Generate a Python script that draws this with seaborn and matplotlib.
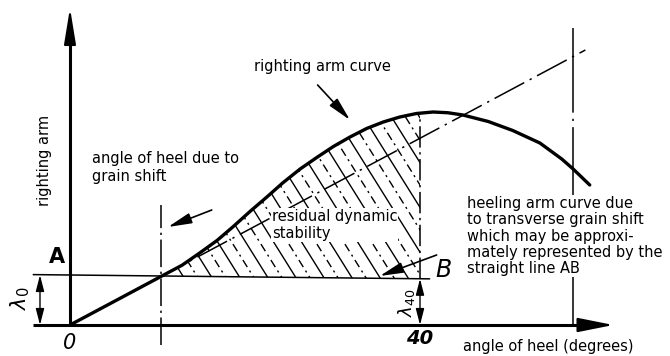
import numpy as np
import matplotlib.pyplot as plt
from matplotlib.patches import Polygon
import seaborn as sns

# righting arm curve (heel in degrees, arm in arbitrary units)
heel = [0, 6.0, 12.8, 14.9, 16.8, 18.6, 20.6, 22.5, 24.3, 26.3, 28.2, 30.1, 32.0,
        33.9, 35.8, 37.7, 39.6, 41.5, 43.2, 44.9, 47.8, 50.6, 53.7, 56.2, 57.5, 59.4]
arm = [0, 0.112, 0.239, 0.29, 0.338, 0.392, 0.455, 0.512, 0.568, 0.624, 0.67, 0.714, 0.752,
       0.786, 0.812, 0.832, 0.846, 0.852, 0.849, 0.84, 0.814, 0.778, 0.728, 0.664, 0.624, 0.56]

# heeling arm line AB
ab_heel = [-4.2, 41.1]
lambda_0 = 0.20
lambda_40 = 0.185
grain_shift_angle = 10.4
check_angle = 40
limit_angle = 57.5
# initial tangent of the righting arm curve
tangent_heel = [0, 58.9]
tangent_arm = [0, 1.10]

sns.set_theme(style="white")
plt.rcParams['font.family'] = ['DejaVu Sans']
plt.rcParams['mathtext.fontset'] = 'dejavusans'
plt.rcParams['text.color'] = 'black'

fig = plt.figure(figsize=(6.7, 3.56), dpi=100)
ax = fig.add_axes([0, 0, 1, 1])
ax.set_xlim(-8.0, 68.571)
ax.set_ylim(-0.124, 1.3)
ax.set_axis_off()


def ab_line(x):
    return lambda_0 + (lambda_40 - lambda_0) * np.asarray(x) / check_angle


# axes with arrows
ax.plot([-4.2, 59.0], [0, 0], color='black', lw=2.2, solid_capstyle='butt')
ax.annotate('', xy=(62.1, 0), xytext=(58.0, 0),
            arrowprops=dict(arrowstyle='-|>,head_length=1.1,head_width=0.22',
                            color='black', lw=1.5, mutation_scale=20, shrinkA=0, shrinkB=0))
ax.plot([0, 0], [0, 1.18], color='black', lw=2.2, solid_capstyle='butt')
ax.annotate('', xy=(0, 1.268), xytext=(0, 1.12),
            arrowprops=dict(arrowstyle='-|>,head_length=1.1,head_width=0.18',
                            color='black', lw=1.5, mutation_scale=20, shrinkA=0, shrinkB=0))

# tangent (dash-dot) and curve
ax.plot(tangent_heel, tangent_arm, color='black', lw=1.1, linestyle=(0, (22, 4, 1.5, 4)))
sns.lineplot(x=heel, y=arm, color='black', lw=2.4, ax=ax, sort=False)

# line AB
ax.plot(ab_heel, ab_line(ab_heel), color='black', lw=1.1)

# vertical construction lines
ax.plot([grain_shift_angle] * 2, [-0.08, 0.48], color='black', lw=1.1,
        linestyle=(0, (18, 3, 1.5, 3)))
ax.plot([check_angle] * 2, [ab_line(check_angle), np.interp(check_angle, heel, arm)],
        color='black', lw=1.1, linestyle=(0, (14, 3, 1.5, 3)))
ax.plot([limit_angle] * 2, [0, 1.188], color='black', lw=1.1,
        linestyle=(0, (60, 4, 1.5, 4)))

# hatched area: residual dynamic stability
xs = np.array([h for h in heel if grain_shift_angle < h < check_angle])
top = list(zip(xs, np.array(arm)[[h in xs for h in heel]]))
top = [(grain_shift_angle, ab_line(grain_shift_angle))] + top + \
      [(check_angle, np.interp(check_angle, heel, arm)), (check_angle, ab_line(check_angle))]
clip = Polygon(top, closed=True, facecolor='none', edgecolor='none')
ax.add_patch(clip)
slope = -1.6 * 8.75 / 250
for k, c in enumerate(np.arange(10.0, 56.0, 1.6)):
    xx = np.array([c - 16, c + 2])
    ls = '-' if k % 2 == 0 else (0, (6, 3, 1.5, 3))
    ln, = ax.plot(xx, slope * (xx - c), color='black', lw=1.0, linestyle=ls)
    ln.set_clip_path(clip)

# dimension arrows
dim = dict(arrowstyle='<|-|>,head_length=0.7,head_width=0.18', color='black',
           lw=1.0, mutation_scale=14, shrinkA=0, shrinkB=0)
ax.annotate('', xy=(-3.43, 0), xytext=(-3.43, lambda_0), arrowprops=dim)
ax.annotate('', xy=(check_angle, 0), xytext=(check_angle, lambda_40), arrowprops=dim)

# pointer arrows
ptr = dict(arrowstyle='-|>,head_length=0.9,head_width=0.2', color='black',
           lw=1.2, mutation_scale=16, shrinkA=0, shrinkB=0)
ax.annotate('', xy=(32.0, 0.82), xytext=(28.3, 0.96), arrowprops=ptr)
ax.annotate('', xy=(11.2, 0.392), xytext=(16.2, 0.46), arrowprops=ptr)
ax.annotate('', xy=(35.4, 0.196), xytext=(41.9, 0.28), arrowprops=ptr)

# labels
fs = 10.5
white = dict(facecolor='white', edgecolor='none', pad=0.5)
ax.text(-2.9, 0.66, 'righting arm', rotation=90, ha='center', va='center', fontsize=fs)
ax.text(28.8, 1.032, 'righting arm curve', ha='center', va='center', fontsize=fs)
ax.text(2.5, 0.63, 'angle of heel due to\ngrain shift', ha='left', va='center',
        fontsize=fs, linespacing=1.25)
ax.text(23.1, 0.40, 'residual dynamic\nstability', ha='left', va='center',
        fontsize=fs, linespacing=1.15, bbox=white)
ax.text(45.4, 0.356,
        'heeling arm curve due\nto transverse grain shift\nwhich may be approxi-\n'
        'mately represented by the\nstraight line AB',
        ha='left', va='center', fontsize=fs, linespacing=1.1, bbox=white)
ax.text(-1.45, 0.272, 'A', ha='center', va='center', fontsize=15, fontweight='bold')
ax.text(42.7, 0.22, 'B', ha='center', va='center', fontsize=17, fontstyle='italic')
ax.text(0, -0.072, '0', ha='center', va='center', fontsize=15, fontstyle='italic')
ax.text(check_angle, -0.052, '40', ha='center', va='center', fontsize=14,
        fontstyle='italic', fontweight='bold')
ax.text(-5.7, 0.108, r'$\lambda_0$', rotation=90, ha='center', va='center', fontsize=15)
ax.text(38.5, 0.09, r'$\lambda_{40}$', rotation=90, ha='center', va='center', fontsize=13)
ax.text(54.6, -0.088, 'angle of heel (degrees)', ha='center', va='center', fontsize=fs)

fig.savefig('out.png', dpi=100)
